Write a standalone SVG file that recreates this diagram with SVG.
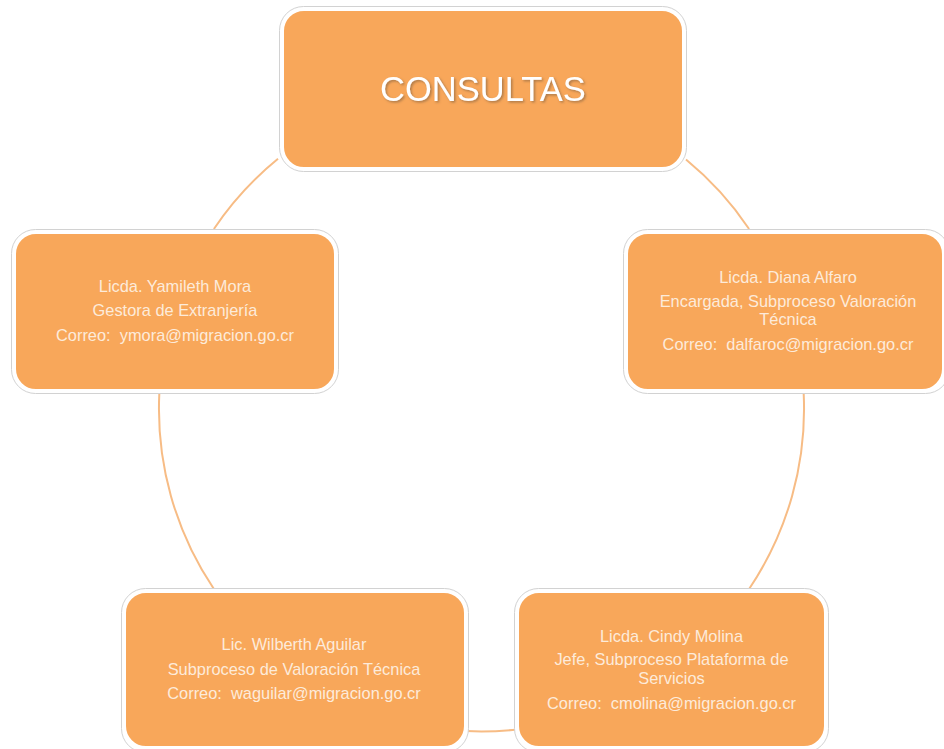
<svg xmlns="http://www.w3.org/2000/svg" width="944" height="749" viewBox="0 0 944 749">
<defs>
<style>
.conn{fill:none;stroke:#F7BC85;stroke-width:2}
.outl{fill:#fff;stroke:#d2d2d2;stroke-width:1}
.box{fill:#F8A75A;stroke:#fff;stroke-width:2}
.t{font-family:"Liberation Sans",Arial,sans-serif;font-size:16.4px;fill:#FDEBDA;text-anchor:middle;white-space:pre}
.big{font-family:"Liberation Sans",Arial,sans-serif;font-size:34.5px;fill:#fff;text-anchor:middle}
</style>
<filter id="sh" x="-10%" y="-30%" width="120%" height="160%">
<feDropShadow dx="1.5" dy="1.5" stdDeviation="1" flood-color="#7a5a3a" flood-opacity="0.6"/>
</filter>
</defs>
<rect width="944" height="749" fill="#fff"/>
<g id="connectors">
<path class="conn" d="M686,159.6 A322.5,322.5 0 0 1 749.1,229"/>
<path class="conn" d="M803.7,394 A322.5,322.5 0 0 1 749.1,589"/>
<path class="conn" d="M517,729.5 A322.5,322.5 0 0 1 466,731.1"/>
<path class="conn" d="M213.9,589 A322.5,322.5 0 0 1 159.3,394"/>
<path class="conn" d="M213.9,229 A322.5,322.5 0 0 1 278,158.8"/>
</g>
<g id="node-consultas">
<rect class="outl" x="279.5" y="6.5" width="407" height="165" rx="24"/>
<rect class="box" x="283" y="10" width="400" height="158" rx="21"/>
<text class="big" x="483" y="101" filter="url(#sh)">CONSULTAS</text>
</g>
<g id="node-mora">
<rect class="outl" x="11.5" y="229.5" width="327" height="164" rx="24"/>
<rect class="box" x="15" y="233" width="320" height="157" rx="21"/>
<text class="t" x="175" y="291.5">Licda. Yamileth Mora</text>
<text class="t" x="175" y="315.5">Gestora de Extranjería</text>
<text class="t" x="175" y="340.5" xml:space="preserve">Correo:  ymora@migracion.go.cr</text>
</g>
<g id="node-alfaro">
<rect class="outl" x="623.5" y="229.5" width="326" height="164" rx="24"/>
<rect class="box" x="627" y="233" width="316" height="157" rx="21"/>
<text class="t" x="788" y="282.5">Licda. Diana Alfaro</text>
<text class="t" x="788" y="306.5">Encargada, Subproceso Valoración</text>
<text class="t" x="788" y="325">Técnica</text>
<text class="t" x="788" y="349.5" xml:space="preserve">Correo:  dalfaroc@migracion.go.cr</text>
</g>
<g id="node-aguilar">
<rect class="outl" x="121.5" y="588.5" width="347" height="164" rx="24"/>
<rect class="box" x="125" y="592" width="340" height="155" rx="21"/>
<text class="t" x="294" y="650">Lic. Wilberth Aguilar</text>
<text class="t" x="294" y="674.5">Subproceso de Valoración Técnica</text>
<text class="t" x="294" y="699" xml:space="preserve">Correo:  waguilar@migracion.go.cr</text>
</g>
<g id="node-molina">
<rect class="outl" x="514.5" y="588.5" width="314" height="164" rx="24"/>
<rect class="box" x="518" y="592" width="307" height="155" rx="21"/>
<text class="t" x="671.5" y="641.5">Licda. Cindy Molina</text>
<text class="t" x="671.5" y="665">Jefe, Subproceso Plataforma de</text>
<text class="t" x="671.5" y="683.5">Servicios</text>
<text class="t" x="671.5" y="708.5" xml:space="preserve">Correo:  cmolina@migracion.go.cr</text>
</g>
</svg>
